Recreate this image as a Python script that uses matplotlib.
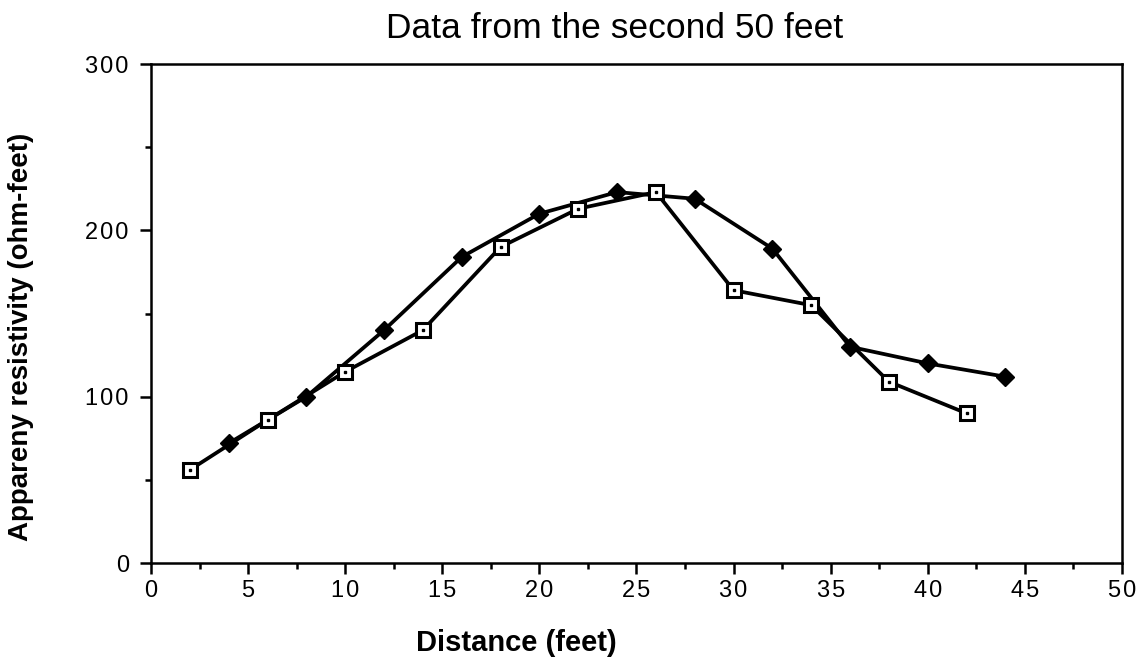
import matplotlib
matplotlib.use("Agg")
import matplotlib.pyplot as plt
from matplotlib.ticker import MultipleLocator, FuncFormatter

# Data
square_x = [2, 6, 10, 14, 18, 22, 26, 30, 34, 38, 42]
square_y = [56, 86, 115, 140, 190, 213, 223, 164, 155, 109, 90]
diamond_x = [4, 8, 12, 16, 20, 24, 28, 32, 36, 40, 44]
diamond_y = [72, 100, 140, 184, 210, 223, 219, 189, 130, 120, 112]

title = "Data from the second 50 feet"
xlabel = "Distance (feet)"
ylabel = "Appareny resistivity (ohm-feet)"

plt.rcParams['font.family'] = ['Liberation Sans', 'DejaVu Sans']

fig = plt.figure(figsize=(11.46, 6.62), dpi=100)
ax = fig.add_axes([0.1318, 0.1495, 0.979 - 0.1318, 0.9033 - 0.1495])

ax.plot(diamond_x, diamond_y, color='black', lw=2.7, marker='D', markersize=9,
        markerfacecolor='black', markeredgecolor='black', zorder=3)
ax.plot(square_x, square_y, color='black', lw=2.7, marker='s', markersize=10,
        markerfacecolor='white', markeredgecolor='black', markeredgewidth=2.2, zorder=4)
ax.plot(square_x, square_y, linestyle='none', marker='s', markersize=1.8,
        color='black', zorder=5)

ax.set_xlim(0, 50)
ax.set_ylim(0, 300)
ax.xaxis.set_major_locator(MultipleLocator(5))
ax.xaxis.set_minor_locator(MultipleLocator(2.5))
ax.yaxis.set_major_locator(MultipleLocator(100))
ax.yaxis.set_minor_locator(MultipleLocator(50))

spaced = FuncFormatter(lambda v, p: "\u200a".join(str(int(round(v)))))
ax.xaxis.set_major_formatter(spaced)
ax.yaxis.set_major_formatter(spaced)

for s in ax.spines.values():
    s.set_linewidth(1.8)
ax.tick_params(which='major', direction='out', length=8, width=1.8, labelsize=17,
               top=False, right=False, pad=4)
ax.tick_params(axis='y', which='major', pad=8)
ax.tick_params(which='minor', direction='out', length=4.5, width=1.8,
               top=False, right=False)

W, H = 1146, 662
fig.text(615 / W, 1 - 28 / H, title, fontsize=25.5, ha='center', va='center')
fig.text(516 / W, 1 - 643 / H, xlabel, fontsize=21, fontweight='bold',
         ha='center', va='center')
fig.text(21 / W, 1 - 337 / H, ylabel, fontsize=20, fontweight='bold',
         ha='center', va='center', rotation=90)

fig.savefig("out.png", dpi=100)
